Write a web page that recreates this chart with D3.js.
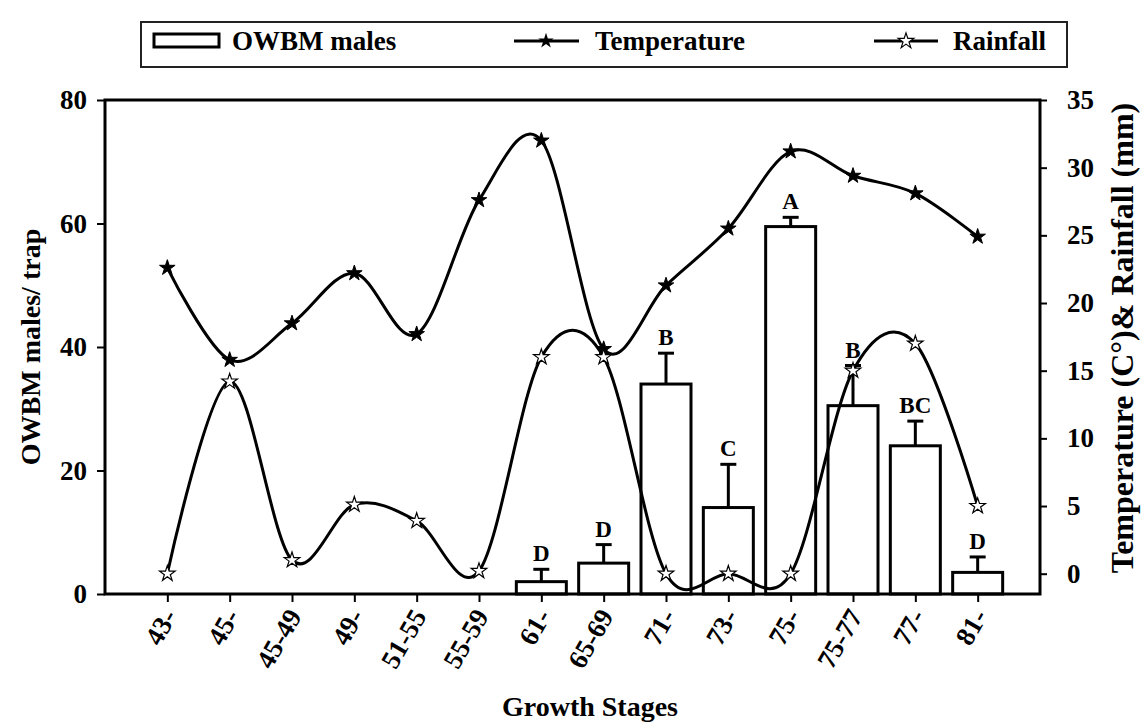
<!DOCTYPE html>
<html>
<head>
<meta charset="utf-8">
<script src="https://cdn.jsdelivr.net/npm/d3@7"></script>
<style>
  html, body { margin: 0; padding: 0; background: #fff; }
  svg text { font-family: "Liberation Serif", "Times New Roman", serif; font-weight: bold; fill: #000; }
</style>
</head>
<body>
<svg id="chart" width="1141" height="722"></svg>
<script>
// ---- data ----
const stages = ["43-","45-","45-49","49-","51-55","55-59","61-","65-69","71-","73-","75-","75-77","77-","81-"];
const males = [0,0,0,0,0,0,2,5,34,14,59.5,30.5,24,3.5];
const malesErr = [0,0,0,0,0,0,2,3,5,7,1.5,6.5,4,2.5];
const letters = ["","","","","","","D","D","B","C","A","B","BC","D"];
const temperature = [22.6,15.8,18.5,22.2,17.7,27.6,32.0,16.6,21.3,25.5,31.2,29.4,28.1,24.9];
const rainfall = [0,14.2,1.0,5.1,3.9,0.2,16.0,16.0,0,0,0,15.0,17.0,5.0];
const leftTicks = [0,20,40,60,80];
const rightTicks = [0,5,10,15,20,25,30,35];

// ---- layout ----
const L = 105, R = 1040, T = 100, B = 594;
const FS_TICK = 27, FS_LET = 23, FS_LEG = 27;
const svg = d3.select("#chart");

const x = d3.scaleLinear().domain([-1, stages.length]).range([L, R]);
const yL = d3.scaleLinear().domain([0, 80]).range([B, T]);
const yR = d3.scaleLinear().domain([-1.5, 35]).range([B, T]);

const barW = 50;

// bars
const idx = d3.range(stages.length).filter(i => males[i] > 0);
svg.append("g").selectAll("rect").data(idx).join("rect")
  .attr("x", i => x(i) - barW/2)
  .attr("y", i => yL(males[i]))
  .attr("width", barW)
  .attr("height", i => yL(0) - yL(males[i]))
  .attr("fill", "#fff").attr("stroke", "#000").attr("stroke-width", 3);

// error bars
const eg = svg.append("g").attr("stroke", "#000").attr("stroke-width", 3);
eg.selectAll("line.v").data(idx).join("line").attr("class","v")
  .attr("x1", i => x(i)).attr("x2", i => x(i))
  .attr("y1", i => yL(males[i])).attr("y2", i => yL(males[i] + malesErr[i]));
eg.selectAll("line.c").data(idx).join("line").attr("class","c")
  .attr("x1", i => x(i) - 8).attr("x2", i => x(i) + 8)
  .attr("y1", i => yL(males[i] + malesErr[i])).attr("y2", i => yL(males[i] + malesErr[i]));

// letters
svg.append("g").selectAll("text").data(idx).join("text")
  .attr("x", i => x(i)).attr("y", i => yL(males[i] + malesErr[i]) - 8)
  .attr("text-anchor", "middle").attr("font-size", FS_LET)
  .text(i => letters[i]);

// lines
const line = d3.line().curve(d3.curveCardinal.tension(0)).x((d, i) => x(i)).y(d => yR(d));
svg.append("path").datum(temperature).attr("d", line)
  .attr("fill", "none").attr("stroke", "#000").attr("stroke-width", 3);
svg.append("path").datum(rainfall).attr("d", line)
  .attr("fill", "none").attr("stroke", "#000").attr("stroke-width", 3);

const star = d3.symbol(d3.symbolStar, 75);
svg.append("g").selectAll("path").data(temperature).join("path")
  .attr("d", star).attr("transform", (d, i) => `translate(${x(i)},${yR(d)})`)
  .attr("fill", "#000").attr("stroke", "#000").attr("stroke-width", 1);
svg.append("g").selectAll("path").data(rainfall).join("path")
  .attr("d", star).attr("transform", (d, i) => `translate(${x(i)},${yR(d)})`)
  .attr("fill", "#fff").attr("stroke", "#000").attr("stroke-width", 1.2);

// frame
svg.append("rect").attr("x", L).attr("y", T).attr("width", R - L).attr("height", B - T)
  .attr("fill", "none").attr("stroke", "#000").attr("stroke-width", 3);

// axes
const axL = svg.append("g").attr("transform", `translate(${L},0)`)
  .call(d3.axisLeft(yL).tickValues(leftTicks).tickSize(8).tickPadding(10).tickFormat(d3.format("d")));
const axR = svg.append("g").attr("transform", `translate(${R},0)`)
  .call(d3.axisRight(yR).tickValues(rightTicks).tickSize(7).tickPadding(20).tickFormat(d3.format("d")));
const axB = svg.append("g").attr("transform", `translate(0,${B})`)
  .call(d3.axisBottom(x).tickValues(d3.range(stages.length)).tickSize(8).tickFormat(i => stages[i]));
[axL, axR, axB].forEach(a => {
  a.select(".domain").remove();
  a.selectAll(".tick line").attr("stroke", "#000").attr("stroke-width", 2);
  a.selectAll(".tick text").attr("font-size", FS_TICK).attr("font-family", "Liberation Serif").attr("font-weight", "bold");
});
axB.selectAll(".tick text")
  .attr("text-anchor", "end")
  .attr("dy", null)
  .attr("y", 0)
  .attr("transform", "translate(10,22) rotate(-60)");

// axis titles
svg.append("text").attr("transform", `translate(40,347) rotate(-90)`)
  .attr("text-anchor", "middle").attr("font-size", 28).text("OWBM males/ trap");
svg.append("text").attr("transform", `translate(1133,338) rotate(-90)`)
  .attr("text-anchor", "middle").attr("font-size", 32).text("Temperature (C°)& Rainfall (mm)");
svg.append("text").attr("x", 590).attr("y", 716)
  .attr("text-anchor", "middle").attr("font-size", 28).text("Growth Stages");

// legend
const lg = svg.append("g");
lg.append("rect").attr("x", 141).attr("y", 22).attr("width", 926).attr("height", 45)
  .attr("fill", "#fff").attr("stroke", "#222").attr("stroke-width", 2);
lg.append("rect").attr("x", 154).attr("y", 34).attr("width", 65).attr("height", 13)
  .attr("fill", "#fff").attr("stroke", "#000").attr("stroke-width", 3);
lg.append("text").attr("x", 232).attr("y", 50).attr("font-size", FS_LEG).text("OWBM males");
lg.append("line").attr("x1", 514).attr("x2", 579).attr("y1", 41).attr("y2", 41).attr("stroke", "#000").attr("stroke-width", 3);
lg.append("path").attr("d", star).attr("transform", "translate(546,41)").attr("fill", "#000");
lg.append("text").attr("x", 595).attr("y", 50).attr("font-size", FS_LEG).text("Temperature");
lg.append("line").attr("x1", 874).attr("x2", 938).attr("y1", 41).attr("y2", 41).attr("stroke", "#000").attr("stroke-width", 3);
lg.append("path").attr("d", star).attr("transform", "translate(906,41)").attr("fill", "#fff").attr("stroke", "#000").attr("stroke-width", 1.2);
lg.append("text").attr("x", 953).attr("y", 50).attr("font-size", FS_LEG).text("Rainfall");
</script>
</body>
</html>
